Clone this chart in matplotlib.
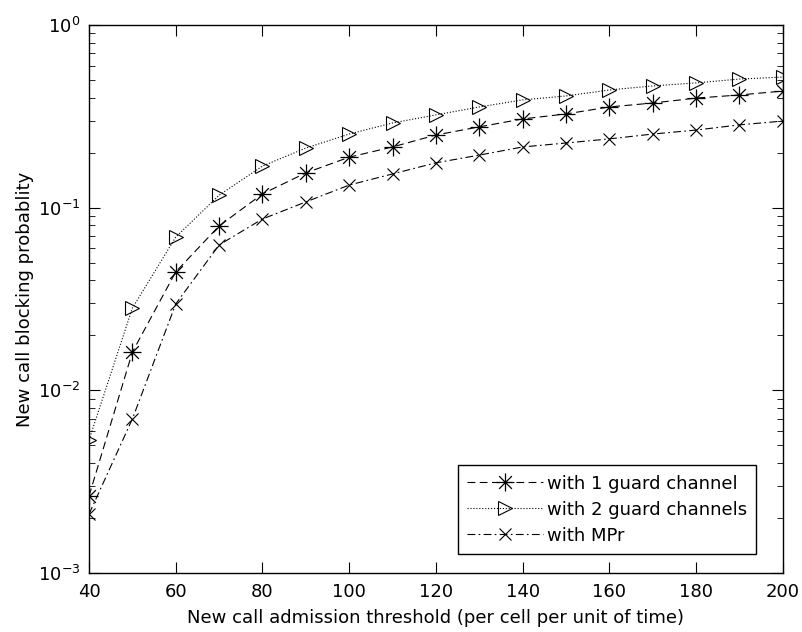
import matplotlib.pyplot as plt
from matplotlib.path import Path

plt.rcParams['font.family'] = ['DejaVu Sans']

# seuil d'admission (x) et probabilités de blocage
seuil = [40, 50, 60, 70, 80, 90, 100, 110, 120, 130, 140, 150, 160, 170, 180, 190, 200]
un_canal = [0.00264, 0.0162, 0.0445, 0.0794, 0.119, 0.155, 0.189, 0.215, 0.250,
            0.277, 0.306, 0.326, 0.356, 0.374, 0.398, 0.414, 0.435]
deux_canaux = [0.00535, 0.0282, 0.069, 0.117, 0.169, 0.212, 0.253, 0.291, 0.322,
               0.356, 0.389, 0.409, 0.441, 0.464, 0.482, 0.506, 0.519]
mpr = [0.0021, 0.00697, 0.0297, 0.0625, 0.0867, 0.1075, 0.133, 0.153, 0.176,
       0.194, 0.215, 0.226, 0.238, 0.253, 0.266, 0.284, 0.298]
noms = ["with 1 guard channel", "with 2 guard channels", "with MPr"]

# astérisque façon matlab : + et x superposés
d = 0.7071
asterisque = Path([(-1, 0), (1, 0), (0, -1), (0, 1), (-d, -d), (d, d), (-d, d), (d, -d)],
                  [Path.MOVETO, Path.LINETO] * 4)

fig = plt.figure(figsize=(8.02, 6.32), dpi=100)
ax = fig.add_axes([0.111, 0.0934, 0.865, 0.867])

ax.semilogy(seuil, un_canal, color='black', ls='--', lw=0.8, marker=asterisque,
            ms=13, mew=0.9, label=noms[0], dashes=(7, 4))
ax.semilogy(seuil, deux_canaux, color='black', ls=':', lw=0.8, marker='>',
            ms=10, mew=0.8, mfc='none', label=noms[1])
ax.semilogy(seuil, mpr, color='black', ls='-.', lw=0.8, marker='x',
            ms=9, mew=0.8, label=noms[2], dashes=(7, 3, 1.5, 3))

ax.set_xlim(40, 200)
ax.set_ylim(1e-3, 1)
ax.set_xticks(range(40, 201, 20))
ax.tick_params(which='both', direction='in', top=True, right=True, labelsize=13)
ax.tick_params(which='major', length=8)
ax.tick_params(which='minor', length=4)
ax.tick_params(axis='x', pad=7)
ax.tick_params(axis='y', pad=6)
for s in ax.spines.values():
    s.set_linewidth(1.0)

ax.set_xlabel("New call admission threshold (per cell per unit of time)", fontsize=13,
              labelpad=6)
ax.set_ylabel("New call blocking probablity", fontsize=13, labelpad=3)

leg = ax.legend(loc='lower right', bbox_to_anchor=(0.961, 0.035), fontsize=13,
                fancybox=False, framealpha=1, edgecolor='black', borderaxespad=0,
                handlelength=4.2, handletextpad=0.2, labelspacing=0.45, borderpad=0.5)
leg.get_frame().set_linewidth(1.0)

fig.savefig("out.png", dpi=100)
